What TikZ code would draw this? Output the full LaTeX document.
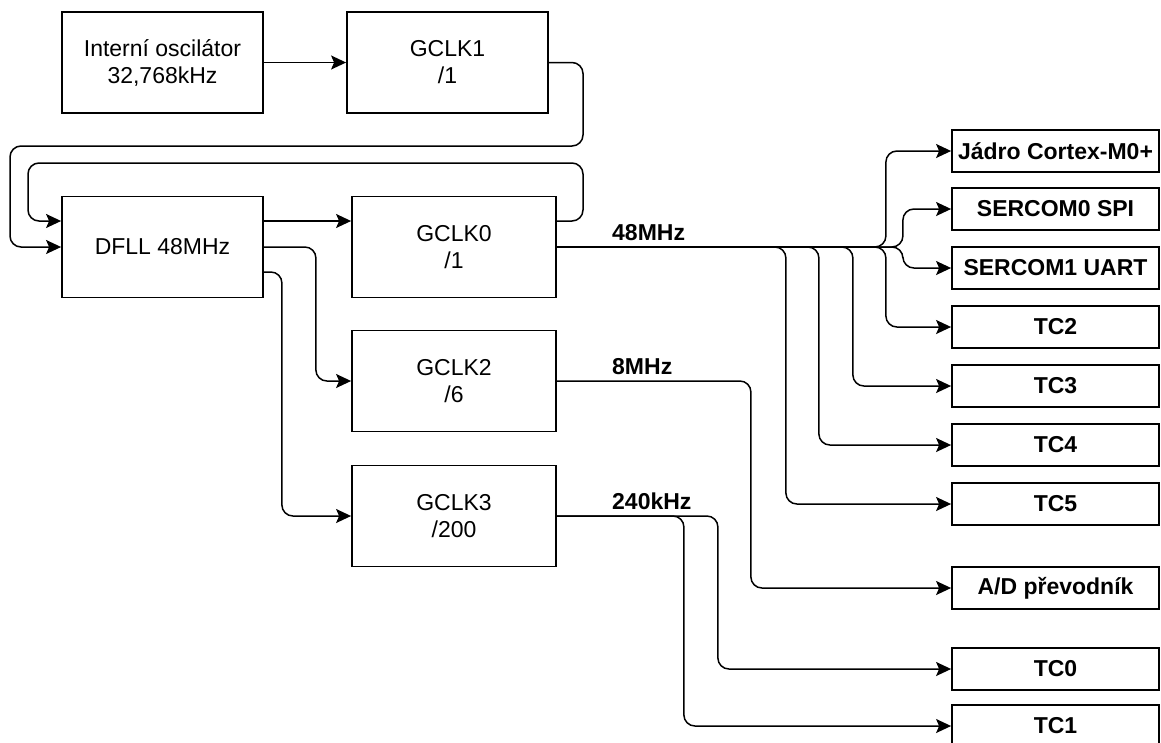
\documentclass[tikz,border=0pt]{standalone}
\usepackage{fontspec}
\setmainfont{Liberation Sans}
\usetikzlibrary{arrows.meta}

\begin{document}
\begin{tikzpicture}[x=1pt,y=-1pt,>={Stealth[length=15pt,width=14pt,inset=3pt]},
  blok/.style={draw,line width=1.8pt,minimum width=201pt,minimum height=101pt,
    align=center,inner sep=0pt,font=\fontsize{23}{27}\selectfont},
  periferie/.style={draw,line width=1.8pt,minimum width=207pt,minimum height=42pt,
    inner sep=0pt,font=\fontsize{23}{27}\selectfont\bfseries},
  spoj/.style={->,line width=1.5pt,rounded corners=11pt},
  frek/.style={anchor=base west,inner sep=0pt,font=\fontsize{23}{27}\selectfont\bfseries}]
  \useasboundingbox[fill=white] (0,0) rectangle (1161,742);

  \node[blok] (osc) at (162.5,62.5) {Interní oscilátor\\32,768kHz};
  \node[blok] (gclk1) at (447.5,62.5) {GCLK1\\/1};
  \node[blok] (dfll) at (162.5,247) {DFLL 48MHz};
  \node[blok,minimum width=204pt] (gclk0) at (454,247) {GCLK0\\/1};
  \node[blok,minimum width=204pt] (gclk2) at (454,381) {GCLK2\\/6};
  \node[blok,minimum width=204pt] (gclk3) at (454,516) {GCLK3\\/200};

  \node[periferie] (core) at (1055.5,151) {Jádro Cortex-M0+};
  \node[periferie] (spi) at (1055.5,209) {SERCOM0 SPI};
  \node[periferie] (uart) at (1055.5,268) {SERCOM1 UART};
  \node[periferie] (tc2) at (1055.5,327) {TC2};
  \node[periferie] (tc3) at (1055.5,386) {TC3};
  \node[periferie] (tc4) at (1055.5,445) {TC4};
  \node[periferie] (tc5) at (1055.5,504) {TC5};
  \node[periferie] (adc) at (1055.5,588) {A/D převodník};
  \node[periferie] (tc0) at (1055.5,669) {TC0};
  \node[periferie] (tc1) at (1055.5,726) {TC1};

  \node[frek] (f48) at (612,240) {48MHz};
  \node[frek] (f8) at (612,374) {8MHz};
  \node[frek] (f240) at (612,509) {240kHz};

  \draw[spoj] (osc) -- (gclk1);
  \draw[spoj] (gclk1.east) -| (583,146) -| (10,247) -- (dfll.west);
  \draw[spoj] ([yshift=26pt]gclk0.east) -| (583,163) -| (28,221) -- ([yshift=26pt]dfll.west);
  \draw[spoj] ([yshift=26pt]dfll.east) -- ([yshift=26pt]gclk0.west);
  \draw[spoj] (dfll.east) -- ++(52,0) |- (gclk2.west);
  \draw[spoj] ([yshift=-25pt]dfll.east) -- ++(18,0) |- (gclk3.west);

  \foreach \cil/\dx in {tc5/229,tc4/262,tc3/296,tc2/329,core/329,spi/346,uart/346}
    \draw[spoj] (gclk0.east) -- ++(\dx,0) |- (\cil.west);
  \draw[spoj] (gclk2.east) -- ++(194,0) |- (adc.west);
  \foreach \cil/\dx in {tc0/161,tc1/127}
    \draw[spoj] (gclk3.east) -- ++(\dx,0) |- (\cil.west);
\end{tikzpicture}
\end{document}
